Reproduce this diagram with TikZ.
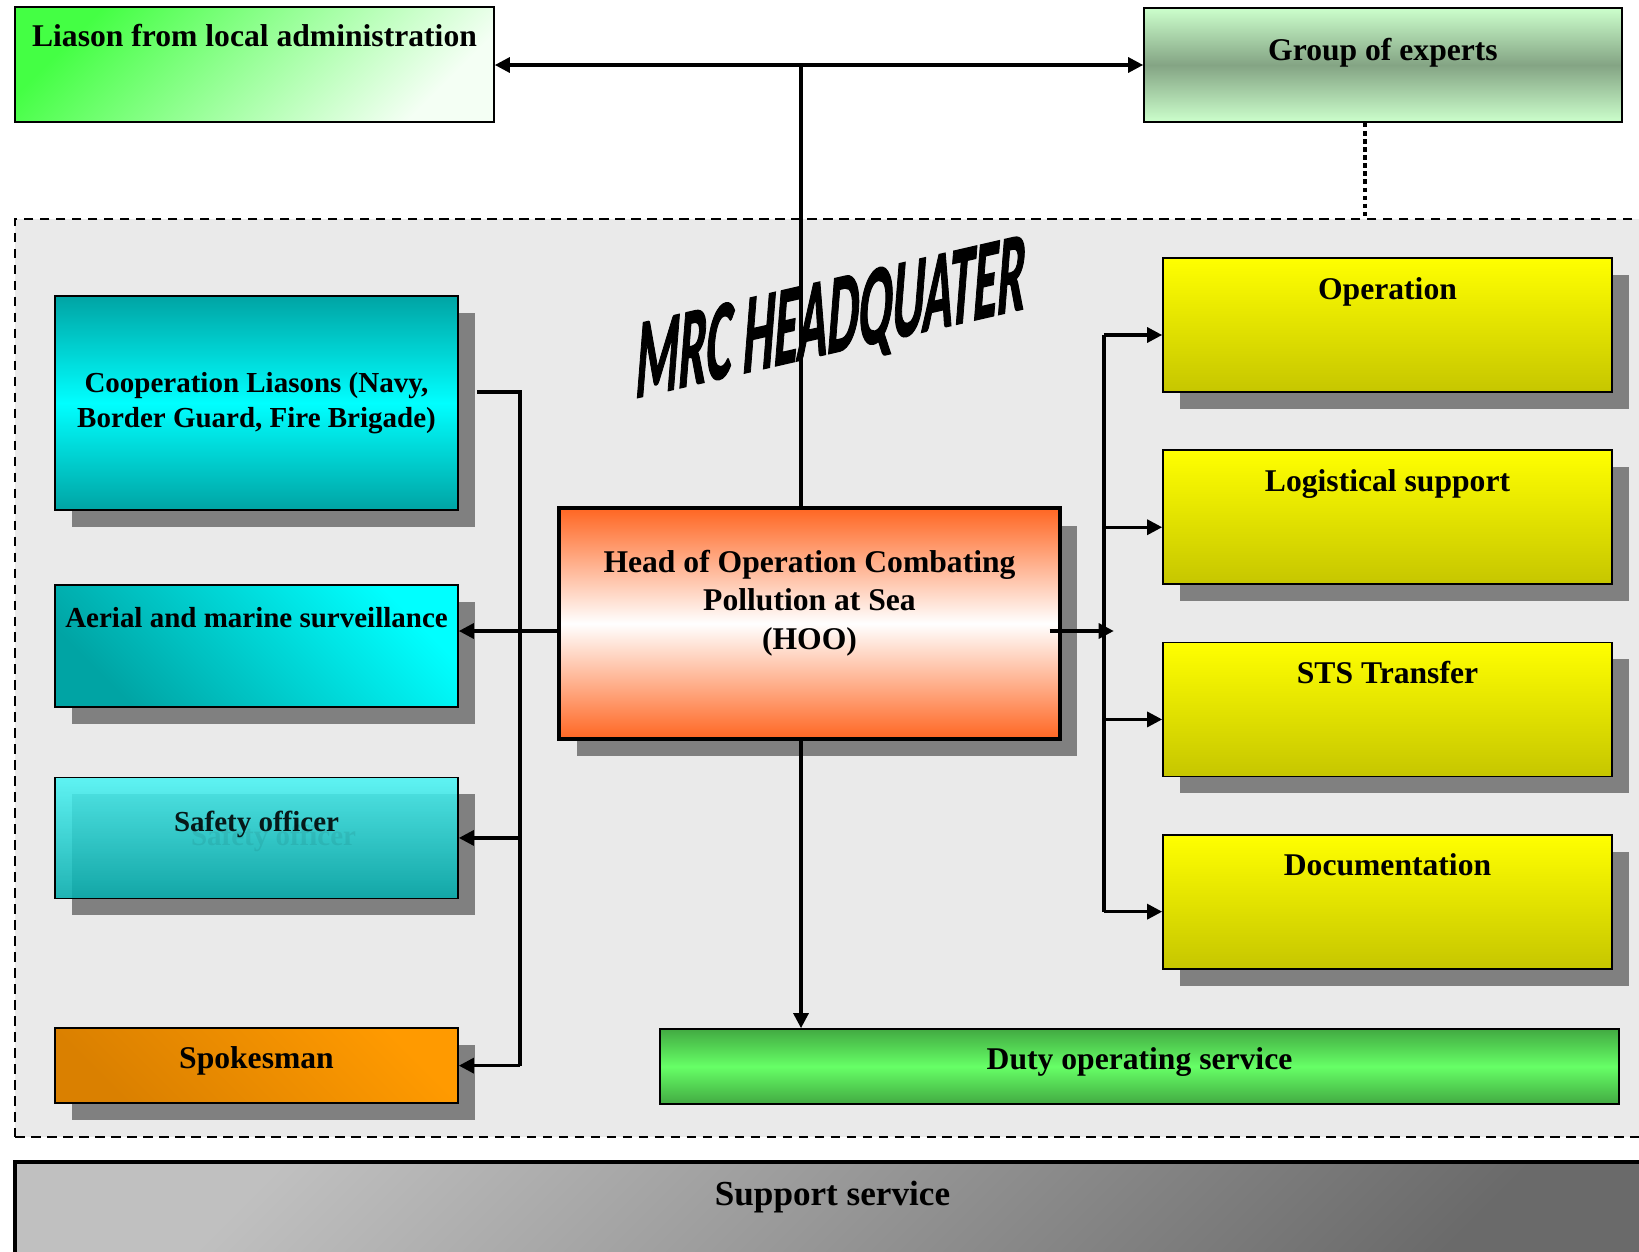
\documentclass[tikz,border=0pt]{standalone}
\usepackage{fontspec}
\setmainfont{Liberation Serif}
\newfontfamily\mrcfont{Carlito}[BoldFeatures={FakeBold=1.6}]
\usepackage{tikz}
\usetikzlibrary{arrows.meta, positioning, shadows}

\definecolor{hqgray}{HTML}{EAEAEA}
\definecolor{shadegray}{HTML}{808080}
\definecolor{liasongreen}{HTML}{44FF44}
\definecolor{liasonpale}{HTML}{F4FFF4}
\definecolor{expertlight}{HTML}{CCFFCC}
\definecolor{expertdark}{HTML}{84A484}
\definecolor{tealdark}{HTML}{00A4A4}
\definecolor{cyanlight}{HTML}{00FFFF}
\definecolor{safetytop}{HTML}{4CF4F4}
\definecolor{safetybot}{HTML}{04ACAC}
\definecolor{spoketop}{HTML}{FF9A00}
\definecolor{spokebot}{HTML}{DA8000}
\definecolor{hooorange}{HTML}{FF6622}
\definecolor{taskyellow}{HTML}{FFFF00}
\definecolor{taskolive}{HTML}{C6C600}
\definecolor{dutydark}{HTML}{42AA42}
\definecolor{dutylight}{HTML}{66FF66}
\definecolor{supportlight}{HTML}{C0C0C0}
\definecolor{supportdark}{HTML}{6A6A6A}

\begin{document}
\begin{tikzpicture}[
  x=0.02cm, y=-0.02cm,
  box/.style={draw, line width=1pt, inner ysep=0pt, font=\bfseries\fontsize{18}{20}\selectfont},
  small/.style={font=\bfseries\fontsize{16.5}{20}\selectfont},
  shad/.style={drop shadow={shadow xshift=0.34cm, shadow yshift=-0.34cm, fill=shadegray, opacity=1}},
  sidebox/.style={box, shad, minimum width=8.06cm},
  taskbox/.style={box, shad, minimum width=8.98cm, text height=0.82cm, text depth=1.86cm,
    top color=taskyellow, bottom color=taskolive},
  conn/.style={line width=1.8pt},
  arr/.style={conn, -{Triangle[length=0.3cm, width=0.3cm]}},
  node distance=1.13cm
]
  \useasboundingbox (0,0) rectangle (1639,1251);

  % Headquarter area
  \node[draw, line width=1.5pt, dash pattern=on 5.5pt off 3.6pt, fill=hqgray,
    minimum width=33.7cm, minimum height=18.36cm] (hq) at (857.5,678) {};
  \begin{scope}[shift={(831,323)}, yslant=0.23]
    \node[font=\mrcfont\bfseries\fontsize{28}{28}\selectfont, xslant=0.08, yscale=2.3, transform shape] (mrc) at (0,0) {MRC HEADQUATER};
  \end{scope}

  % Support service
  \node[draw, line width=2pt, inner ysep=0pt, minimum width=32.7cm, text height=0.87cm, text depth=2.13cm,
    top color=supportlight, bottom color=supportdark, shading angle=45,
    font=\bfseries\fontsize{20}{22}\selectfont] (support) at (832.5,1237) {Support service};

  % Outside the headquarter
  \node[box, minimum width=9.58cm, text height=0.78cm, text depth=1.52cm,
    top color=liasongreen, bottom color=liasonpale, shading angle=45] (liason) at (254.5,64.5) {Liason from local administration};
  \node[box, minimum width=9.56cm, text height=1.05cm, text depth=1.23cm,
    top color=expertlight, bottom color=expertlight, middle color=expertdark] (experts) at (1383,65) {Group of experts};

  % Left column
  \node[sidebox, small, minimum height=4.28cm, align=center,
    top color=tealdark, bottom color=tealdark, middle color=cyanlight] (coop) at (256.5,403) {Cooperation Liasons (Navy,\\Border Guard, Fire Brigade)};
  \node[sidebox, small, below=1.46cm of coop, text height=0.85cm, text depth=1.59cm,
    top color=cyanlight, bottom color=tealdark, shading angle=-45] (aerial) {Aerial and marine surveillance};
  \node[sidebox, small, below=1.38cm of aerial, text height=1.09cm, text depth=1.33cm,
    top color=safetytop, bottom color=safetybot, fill opacity=0.88,
    label={[small, text opacity=0.07, xshift=0.34cm]center:Safety officer}] (safety) {Safety officer};
  \node[sidebox, below=2.56cm of safety, text height=0.81cm, text depth=0.69cm,
    top color=spoketop, bottom color=spokebot, shading angle=-45] (spokes) {Spokesman};

  % Head of operation
  \node[box, line width=2pt, minimum width=10.02cm, minimum height=4.62cm,
    drop shadow={shadow xshift=0.35cm, shadow yshift=-0.35cm, fill=shadegray, opacity=1},
    top color=hooorange, bottom color=hooorange, middle color=white,
    label={[align=center, font=\bfseries\fontsize{18}{22}\selectfont, yshift=0.41cm]center:{Head of Operation Combating\\Pollution at Sea\\(HOO)}}] (hoo) at (809.5,623.5) {};

  % Right column
  \node[taskbox] (oper) at (1387.5,325) {Operation};
  \node[taskbox, below=of oper] (logist) {Logistical support};
  \node[taskbox, below=of logist] (sts) {STS Transfer};
  \node[taskbox, below=of sts] (docu) {Documentation};

  \node[box, minimum width=19.18cm, text height=0.81cm, text depth=0.69cm,
    top color=dutydark, bottom color=dutydark, middle color=dutylight] (duty) at (1139.5,1066.5) {Duty operating service};

  % Connectors
  \coordinate (top) at (801,65);
  \coordinate (gdot) at (1365,0);
  \coordinate (lbus) at (520,0);
  \coordinate (rbus) at (1104,0);

  \draw[conn] (hoo.north -| top) -- (top);
  \draw[arr] (top) -- (liason.east |- top);
  \draw[arr] (top) -- (experts.west |- top);
  \draw[conn, dash pattern=on 2.6pt off 2pt] (experts.south -| gdot) -- (hq.north -| gdot);

  \draw[conn] ([xshift=0.36cm, yshift=0.22cm]coop.east) -| (lbus |- spokes.east);
  \draw[arr] ([yshift=-0.15cm]hoo.west) -- ([yshift=-0.15cm]hoo.west -| aerial.east);
  \draw[arr] (lbus |- safety.east) -- (safety.east);
  \draw[arr] (lbus |- spokes.east) -- (spokes.east);

  \draw[conn] ([yshift=-0.2cm]oper.west -| rbus) -- ([yshift=-0.2cm]docu.west -| rbus);
  \draw[arr] ([xshift=-0.24cm, yshift=-0.15cm]hoo.east) -- ++(64,0);
  \draw[arr] ([yshift=-0.2cm]oper.west -| rbus) -- ([yshift=-0.2cm]oper.west);
  \draw[arr] ([yshift=-0.2cm]logist.west -| rbus) -- ([yshift=-0.2cm]logist.west);
  \draw[arr] ([yshift=-0.2cm]sts.west -| rbus) -- ([yshift=-0.2cm]sts.west);
  \draw[arr] ([yshift=-0.2cm]docu.west -| rbus) -- ([yshift=-0.2cm]docu.west);
  \draw[arr] (hoo.south -| top) -- (duty.north -| top);
\end{tikzpicture}
\end{document}
